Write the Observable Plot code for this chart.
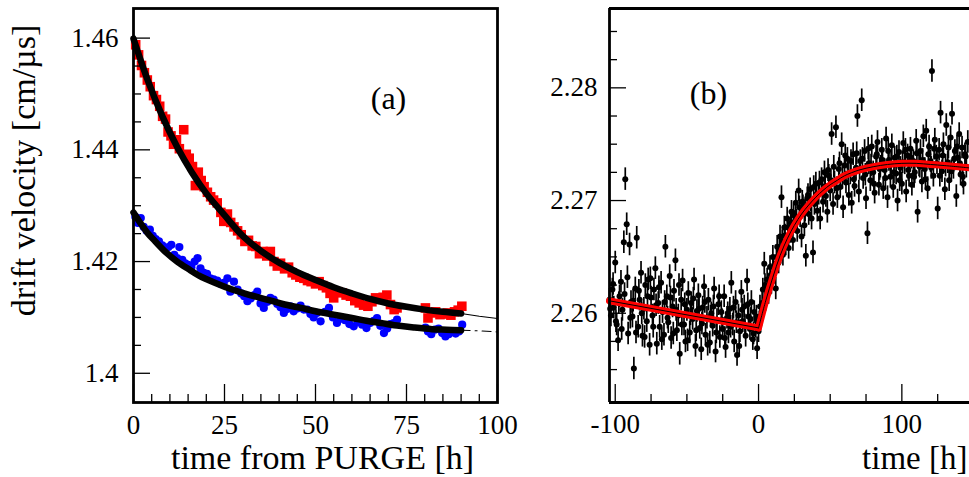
<!DOCTYPE html>
<html><head><meta charset="utf-8">
<script src="https://cdn.jsdelivr.net/npm/d3@7"></script>
<script src="https://cdn.jsdelivr.net/npm/@observablehq/plot@0.6"></script>
<style>
html,body{margin:0;padding:0;background:#fff;overflow:hidden}
#wrap{position:relative;width:969px;height:477px;overflow:hidden;background:#fff}
#wrap svg{position:absolute;top:0}
</style></head><body><div id="wrap"></div>
<script>
// ---------- Panel (a): drift velocity vs time from PURGE ----------
const aRedT = [0.6,1.4,2.2,3.0,3.8,4.6,5.5,6.3,7.2,8.0,8.8,9.5,10.3,11.0,11.8,12.6,13.8,14.5,15.3,16.2,17.0,17.8,18.6,19.4,20.3,21.2,22.0,23.0,24.0,24.8,25.8,26.7,27.6,28.6,29.6,30.6,31.6,32.6,33.6,34.6,35.6,36.6,37.6,38.6,39.5,40.4,41.5,42.6,43.6,44.6,45.7,46.8,47.8,48.8,50.0,51.0,52.0,53.0,54.0,55.0,56.2,57.3,58.4,59.6,60.8,62.0,63.2,64.4,65.5,66.5,67.5,68.6,69.6,70.6,71.6,72.4,80.2,80.9,81.8,83.0,84.2,85.2,86.2,87.2,88.2,89.2,90.2];
const aRedV = [1.4588,1.4570,1.4551,1.4538,1.4525,1.4513,1.4497,1.4490,1.4478,1.4460,1.4455,1.4432,1.4425,1.4410,1.4418,1.4402,1.4436,1.4392,1.4385,1.4370,1.4336,1.4360,1.4345,1.4334,1.4324,1.4316,1.4310,1.4305,1.4288,1.4272,1.4285,1.4270,1.4262,1.4255,1.4248,1.4236,1.4238,1.4228,1.4227,1.4214,1.4218,1.4210,1.4218,1.4200,1.4192,1.4197,1.4187,1.4190,1.4180,1.4176,1.4172,1.4170,1.4166,1.4164,1.4160,1.4164,1.4157,1.4153,1.4143,1.4135,1.4146,1.4144,1.4140,1.4138,1.4130,1.4126,1.4122,1.4120,1.4128,1.4135,1.4132,1.4136,1.4140,1.4123,1.4114,1.4117,1.4117,1.4099,1.4108,1.4110,1.4105,1.4106,1.4108,1.4104,1.4110,1.4113,1.4120];
const aBlueT = [0.5,1.2,2.0,2.8,3.6,4.5,5.3,6.1,7.0,7.9,8.8,9.6,10.4,11.2,12.0,12.6,13.4,14.2,15.0,15.9,16.8,17.6,18.4,19.3,20.2,21.1,22.0,23.0,24.0,24.8,25.8,26.6,27.6,28.6,29.6,30.4,31.3,32.2,33.2,34.0,34.9,35.8,36.8,37.6,38.5,39.5,40.4,41.3,42.2,43.1,44.0,45.0,45.9,46.8,47.7,48.6,49.5,50.4,51.4,52.6,53.7,54.8,55.9,57.0,58.1,59.3,60.5,61.6,62.8,64.0,65.0,66.0,66.9,67.8,68.8,69.7,70.6,71.5,72.4,80.2,80.9,81.8,82.8,83.8,84.8,85.7,86.6,87.6,88.5,89.4,90.3];
const aBlueV = [1.4280,1.4269,1.4278,1.4262,1.4255,1.4257,1.4246,1.4240,1.4236,1.4229,1.4222,1.4226,1.4230,1.4212,1.4206,1.4226,1.4203,1.4197,1.4194,1.4190,1.4200,1.4206,1.4188,1.4180,1.4178,1.4170,1.4168,1.4166,1.4160,1.4162,1.4170,1.4146,1.4164,1.4150,1.4143,1.4138,1.4129,1.4134,1.4140,1.4146,1.4125,1.4117,1.4128,1.4135,1.4132,1.4124,1.4118,1.4108,1.4115,1.4120,1.4111,1.4116,1.4121,1.4114,1.4114,1.4106,1.4100,1.4108,1.4093,1.4110,1.4117,1.4100,1.4090,1.4098,1.4095,1.4088,1.4084,1.4092,1.4087,1.4081,1.4090,1.4094,1.4099,1.4085,1.4072,1.4080,1.4088,1.4090,1.4096,1.4082,1.4075,1.4070,1.4078,1.4080,1.4072,1.4066,1.4070,1.4074,1.4071,1.4075,1.4087];
// fit curves
const aRedFitT = [0,4,8,12,16,20,25,30,35,40,45,50,55,60,65,70,75,80,85,90];
const aRedFitV = [1.4599,1.4523,1.4459,1.4405,1.4360,1.4322,1.4283,1.4246,1.4219,1.4198,1.4181,1.4167,1.4154,1.4143,1.4133,1.4125,1.4119,1.4114,1.4110,1.4107];
const aRedExtT = [90,95,100];
const aRedExtV = [1.4107,1.4102,1.4098];
const aBlueFitT = [0,2,4,6,9,12,15,18,22,27.5,32,36.7,41,46,50,55,60,64,68,73,77,82,86,90];
const aBlueFitV = [1.4288,1.4268,1.4250,1.4236,1.4216,1.4200,1.4187,1.4175,1.4163,1.4149,1.4140,1.4132,1.4124,1.4117,1.4111,1.4105,1.4099,1.4094,1.4090,1.4085,1.4082,1.4079,1.4078,1.4077];
const aBlueExtT = [90,95,100];
const aBlueExtV = [1.4077,1.4076,1.4074];
const aXTicks = [0,25,50,75,100];
const aXMinor = [5,10,15,20,30,35,40,45,55,60,65,70,80,85,90,95];
const aYTicks = [1.40,1.42,1.44,1.46];
const aYMinor = [1.405,1.41,1.415,1.425,1.43,1.435,1.445,1.45,1.455];
const aXDomain = [0,100];
const aYDomain = [1.39477,1.4653];

// ---------- Panel (b): drift velocity vs time ----------
const bT = [-104,-103,-102,-101,-100,-99,-98,-97,-96,-95,-94,-93,-92,-91,-90,-89,-88,-87,-86,-85,-84,-83,-82,-81,-80,-79,-78,-77,-76,-75,-74,-73,-72,-71,-70,-69,-68,-67,-66,-65,-64,-63,-62,-61,-60,-59,-58,-57,-56,-55,-54,-53,-52,-51,-50,-49,-48,-47,-46,-45,-44,-43,-42,-41,-40,-39,-38,-37,-36,-35,-34,-33,-32,-31,-30,-29,-28,-27,-26,-25,-24,-23,-22,-21,-20,-19,-18,-17,-16,-15,-14,-13,-12,-11,-10,-9,-8,-7,-6,-5,-4,-3,-2,-1,0,1,2,3,4,5,6,7,8,9,10,11,12,13,14,15,16,17,18,19,20,21,22,23,24,25,26,27,28,29,30,31,32,33,34,35,36,37,38,39,40,41,42,43,44,45,46,47,48,49,50,51,52,53,54,55,56,57,58,59,60,61,62,63,64,65,66,67,68,69,70,71,72,73,74,75,76,77,78,79,80,81,82,83,84,85,86,87,88,89,90,91,92,93,94,95,96,97,98,99,100,101,102,103,104,105,106,107,108,109,110,111,112,113,114,115,116,117,118,119,120,121,122,123,124,125,126,127,128,129,130,131,132,133,134,135,136,137,138,139,140,141,142,143,144,145,146];
const bV = [
2.2612,2.2598,2.2621,2.2605,2.2645,2.2590,2.2576,2.2615,2.2628,2.2603,
2.2663,2.2719,2.2679,2.2582,2.2661,2.2610,2.2597,2.2551,2.2622,2.2667,
2.2588,2.2612,2.2636,2.2580,2.2604,2.2625,2.2593,2.2630,2.2572,2.2614,
2.2598,2.2621,2.2640,2.2573,2.2609,2.2588,2.2627,2.2601,2.2581,2.2659,
2.2615,2.2592,2.2633,2.2578,2.2606,2.2620,2.2647,2.2585,2.2598,2.2564,
2.2612,2.2629,2.2590,2.2575,2.2603,2.2618,2.2583,2.2609,2.2595,2.2630,
2.2571,2.2602,2.2616,2.2587,2.2568,2.2605,2.2624,2.2581,2.2596,2.2612,
2.2574,2.2600,2.2589,2.2622,2.2566,2.2594,2.2608,2.2579,2.2601,2.2586,
2.2615,2.2570,2.2596,2.2583,2.2604,2.2627,2.2590,2.2575,2.2610,2.2563,
2.2598,2.2584,2.2619,2.2593,2.2606,2.2580,2.2629,2.2597,2.2586,2.2610,
2.2577,2.2601,2.2588,2.2569,2.2584,2.2606,2.2598,2.2621,2.2644,2.2612,
2.2630,2.2618,2.2641,2.2627,2.2650,2.2636,2.2622,2.2659,2.2645,2.2668,
2.2703,2.2652,2.2676,2.2661,2.2684,2.2658,2.2672,2.2690,2.2665,2.2681,
2.2698,2.2673,2.2709,2.2686,2.2668,2.2695,2.2678,2.2651,2.2702,2.2688,
2.2710,2.2684,2.2654,2.2697,2.2715,2.2691,2.2706,2.2684,2.2719,2.2699,
2.2725,2.2704,2.2690,2.2722,2.2709,2.2759,2.2697,2.2716,2.2765,2.2703,
2.2728,2.2712,2.2750,2.2694,2.2731,2.2716,2.2737,2.2705,2.2724,2.2698,
2.2741,2.2713,2.2729,2.2775,2.2708,2.2735,2.2789,2.2720,2.2744,2.2702,
2.2671,2.2733,2.2718,2.2748,2.2725,2.2707,2.2739,2.2752,2.2714,2.2730,
2.2745,2.2711,2.2727,2.2755,2.2703,2.2736,2.2721,2.2749,2.2712,2.2738,
2.2724,2.2700,2.2743,2.2729,2.2715,2.2751,2.2733,2.2708,2.2740,2.2722,
2.2746,2.2714,2.2735,2.2725,2.2753,2.2690,2.2731,2.2744,2.2717,2.2757,
2.2728,2.2762,2.2711,2.2748,2.2735,2.2815,2.2722,2.2754,2.2739,2.2693,
2.2745,2.2778,2.2726,2.2750,2.2710,2.2767,2.2734,2.2718,2.2756,2.2777,
2.2729,2.2744,2.2704,2.2738,2.2759,2.2723,2.2747,2.2715,2.2741,2.2730,2.2752];
// second interleaved set of measurements (half-hour offsets)
const bT2 = [-103.5,-101.5,-99.5,-97.5,-95.5,-93.5,-91.5,-89.5,-87.5,-85.5,-83.5,-81.5,-79.5,-77.5,-75.5,-73.5,-71.5,-69.5,-67.5,-65.5,-63.5,-61.5,-59.5,-57.5,-55.5,-53.5,-51.5,-49.5,-47.5,-45.5,-43.5,-41.5,-39.5,-37.5,-35.5,-33.5,-31.5,-29.5,-27.5,-25.5,-23.5,-21.5,-19.5,-17.5,-15.5,-13.5,-11.5,-9.5,-7.5,-5.5,-3.5,-1.5,0.5,2.5,4.5,6.5,8.5,10.5,12.5,14.5,16.5,18.5,20.5,22.5,24.5,26.5,28.5,30.5,32.5,34.5,36.5,38.5,40.5,42.5,44.5,46.5,48.5,50.5,52.5,54.5,56.5,58.5,60.5,62.5,64.5,66.5,68.5,70.5,72.5,74.5,76.5,78.5,80.5,82.5,84.5,86.5,88.5,90.5,92.5,94.5,96.5,98.5,100.5,102.5,104.5,106.5,108.5,110.5,112.5,114.5,116.5,118.5,120.5,122.5,124.5,126.5,128.5,130.5,132.5,134.5,136.5,138.5,140.5,142.5,144.5];
const bV2 = [
2.2604,2.2626,2.2593,2.2609,2.2586,2.2617,2.2632,2.2596,2.2611,2.2583,
2.2620,2.2600,2.2579,2.2615,2.2631,2.2588,2.2607,2.2623,2.2577,2.2610,
2.2596,2.2614,2.2582,2.2603,2.2625,2.2590,2.2608,2.2576,2.2599,2.2613,
2.2585,2.2604,2.2591,2.2610,2.2572,2.2597,2.2606,2.2583,2.2615,2.2594,
2.2578,2.2600,2.2588,2.2605,2.2592,2.2571,2.2603,2.2589,2.2608,2.2595,
2.2582,2.2597,2.2592,2.2609,2.2625,2.2622,2.2634,2.2641,2.2650,2.2657,
2.2664,2.2669,2.2676,2.2680,2.2687,2.2682,2.2694,2.2699,2.2691,2.2705,
2.2700,2.2712,2.2705,2.2716,2.2708,2.2713,2.2727,2.2718,2.2730,2.2711,
2.2733,2.2720,2.2740,2.2724,2.2735,2.2719,2.2742,2.2728,2.2737,2.2723,
2.2746,2.2731,2.2715,2.2741,2.2728,2.2736,2.2720,2.2744,2.2732,2.2725,
2.2739,2.2718,2.2734,2.2745,2.2727,2.2738,2.2721,2.2742,2.2730,2.2736,
2.2719,2.2741,2.2729,2.2746,2.2733,2.2722,2.2740,2.2731,2.2747,2.2726,
2.2737,2.2748,2.2733,2.2721,2.2739];
const bErr = 0.001;
const bLineT = [-104,0];
const bLineV = [2.2611,2.2587];
const bCurveT = [0,5,10,15,20,25,30,35,40,45,50,55,60,70,80,90,100,110,120,130,147];
const bCurveV = [2.2587,2.2611,2.2632,2.2651,2.2666,2.2678,2.2688,2.2696,2.2703,2.2709,2.2714,2.2718,2.2722,2.2727,2.2730,2.2732,2.2733,2.2733,2.2732,2.2731,2.2729];
const bXTicks = [-100,0,100];
const bXMinor = [-75,-50,-25,25,50,75,125];
const bYTicks = [2.26,2.27,2.28];
const bYMinor = [2.255,2.2575,2.2625,2.265,2.2675,2.2725,2.275,2.2775,2.2825,2.285];
const bXDomain = [-104,147.2];
const bYDomain = [2.25208,2.28704];

// ---------- drawing ----------
const FONT = "'Liberation Serif','Times New Roman',serif";
const zip = (t, v) => t.map((d, i) => ({t: d, v: v[i]}));
const H = 477, MT = 8, MB = 75, FH = H - MT - MB;
const tickW = 1.3, majLen = 17, minLen = 8;

function ticks(xMaj, xMin, yMaj, yMin, fw) {
  return [
    Plot.tickY(yMin, {y: d => d, stroke: "#000", strokeWidth: tickW, insetRight: fw - minLen}),
    Plot.tickY(yMaj, {y: d => d, stroke: "#000", strokeWidth: tickW, insetRight: fw - majLen}),
    Plot.tickX(xMin, {x: d => d, stroke: "#000", strokeWidth: tickW, insetTop: FH - minLen}),
    Plot.tickX(xMaj, {x: d => d, stroke: "#000", strokeWidth: tickW, insetTop: FH - majLen - 1})
  ];
}

const AW = 540, AML = 133, AMR = 43;
const plotA = Plot.plot({
  width: AW, height: H, marginLeft: AML, marginRight: AMR, marginTop: MT, marginBottom: MB,
  style: {fontFamily: FONT, fontSize: "27px", color: "#000", background: "transparent", overflow: "visible"},
  x: {domain: aXDomain, label: null}, y: {domain: aYDomain, label: null},
  marks: [
    Plot.dot(zip(aRedT, aRedV), {x: "t", y: "v", symbol: "square", r: 5.4, fill: "#ff0000"}),
    Plot.dot(zip(aBlueT, aBlueV), {x: "t", y: "v", r: 4.1, fill: "#0000ff"}),
    Plot.line(zip(aRedFitT, aRedFitV), {x: "t", y: "v", stroke: "#000", strokeWidth: 6.5, curve: "catmull-rom"}),
    Plot.line(zip(aBlueFitT, aBlueFitV), {x: "t", y: "v", stroke: "#000", strokeWidth: 6.5, curve: "catmull-rom"}),
    Plot.line(zip(aRedExtT, aRedExtV), {x: "t", y: "v", stroke: "#000", strokeWidth: 1.1}),
    Plot.line(zip(aBlueExtT, aBlueExtV), {x: "t", y: "v", stroke: "#000", strokeWidth: 1.1, strokeDasharray: "9,5,2,5"}),
    ...ticks(aXTicks, aXMinor, aYTicks, aYMinor, AW - AML - AMR),
    Plot.axisY({ticks: aYTicks, tickSize: 0, tickPadding: 15, label: null, tickFormat: d => String(d)}),
    Plot.axisX({ticks: aXTicks, tickSize: 0, tickPadding: 12, label: null, tickFormat: d => String(d)}),
    Plot.frame({stroke: "#000", strokeWidth: 2.8}),
    Plot.text(["(a)"], {text: d => d, frameAnchor: "top-left", dx: 255, dy: 90, fontSize: 32, lineAnchor: "middle", textAnchor: "middle"}),
    Plot.text(["time from PURGE [h]"], {text: d => d, frameAnchor: "bottom", dx: 7, dy: 56, fontSize: 34, lineAnchor: "middle", textAnchor: "middle"}),
    Plot.text(["drift velocity [cm/µs]"], {text: d => d, frameAnchor: "left", dx: -109, dy: -35, rotate: -90, fontSize: 34, lineAnchor: "middle", textAnchor: "middle"})
  ]
});

const BW = 429, BML = 69;
const bData = zip(bT, bV).concat(zip(bT2, bV2));
const plotB = Plot.plot({
  width: BW, height: H, marginLeft: BML, marginRight: 0, marginTop: MT, marginBottom: MB,
  style: {fontFamily: FONT, fontSize: "27px", color: "#000", background: "transparent", overflow: "visible"},
  x: {domain: bXDomain, label: null}, y: {domain: bYDomain, label: null},
  marks: [
    Plot.ruleX(bData, {x: "t", y1: d => d.v - bErr, y2: d => d.v + bErr, stroke: "#000", strokeWidth: 1.7}),
    Plot.dot(bData, {x: "t", y: "v", r: 3, fill: "#000"}),
    Plot.line(zip(bLineT, bLineV), {x: "t", y: "v", stroke: "#ff0000", strokeWidth: 7}),
    Plot.line(zip(bCurveT, bCurveV), {x: "t", y: "v", stroke: "#ff0000", strokeWidth: 7, curve: "catmull-rom"}),
    Plot.line(zip(bLineT, bLineV), {x: "t", y: "v", stroke: "#000", strokeWidth: 1}),
    Plot.line(zip(bCurveT, bCurveV), {x: "t", y: "v", stroke: "#000", strokeWidth: 1, curve: "catmull-rom"}),
    ...ticks(bXTicks, bXMinor, bYTicks, bYMinor, BW - BML),
    Plot.axisY({ticks: bYTicks, tickSize: 0, tickPadding: 12, label: null, tickFormat: d => String(d)}),
    Plot.axisX({ticks: bXTicks, tickSize: 0, tickPadding: 11, label: null, tickFormat: d => String(d)}),
    Plot.ruleX([bXDomain[0]], {stroke: "#000", strokeWidth: 2.8}),
    Plot.ruleY([bYDomain[0], bYDomain[1]], {stroke: "#000", strokeWidth: 2.8}),
    Plot.text(["(b)"], {text: d => d, frameAnchor: "top-left", dx: 99, dy: 85, fontSize: 32, lineAnchor: "middle", textAnchor: "middle"}),
    Plot.text(["time [h]"], {text: d => d, frameAnchor: "bottom-right", dx: -2, dy: 56, fontSize: 33, lineAnchor: "middle", textAnchor: "end"})
  ]
});

plotA.style.left = "0px";
plotB.style.left = AW + "px";
const wrap = document.getElementById("wrap");
wrap.appendChild(plotA);
wrap.appendChild(plotB);
</script></body></html>
